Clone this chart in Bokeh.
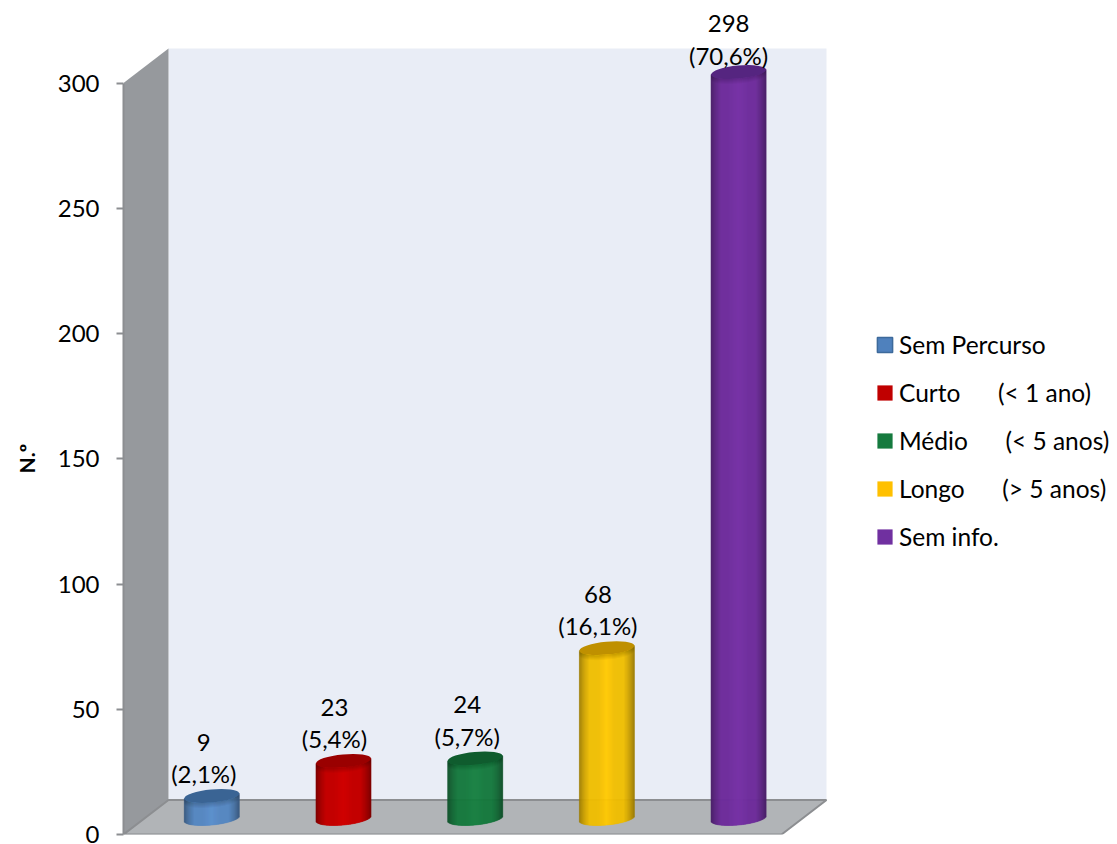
import numpy as np
from bokeh.plotting import figure
from bokeh.models import Range1d, Legend, LegendItem, ColumnDataSource, FixedTicker, Title
from bokeh.core.properties import value
from bokeh.embed import file_html
from bokeh.resources import INLINE

# Chart data
categories = ["Sem Percurso", "Curto", "Médio", "Longo", "Sem info."]
legend_labels = ["Sem Percurso",
                 "Curto\u00a0\u00a0\u00a0\u00a0\u00a0\u00a0(< 1 ano)",
                 "Médio\u00a0\u00a0\u00a0\u00a0\u00a0\u00a0(< 5 anos)",
                 "Longo\u00a0\u00a0\u00a0\u00a0\u00a0\u00a0(> 5 anos)",
                 "Sem info."]
counts = [9, 23, 24, 68, 298]
percents = ["(2,1%)", "(5,4%)", "(5,7%)", "(16,1%)", "(70,6%)"]
y_ticks = [0, 50, 100, 150, 200, 250, 300]

# Series colours: body centre, top cap, legend swatch
body_colors = ["#5a8fce", "#d00000", "#158040", "#ffc900", "#7631a6"]
cap_colors = ["#3a6494", "#9a0000", "#0f5c2e", "#bf9000", "#552580"]
swatch_colors = ["#4f81bd", "#c00000", "#157a3e", "#ffc000", "#7030a0"]

# Label nudges in screen pixels, relative to the top of each cylinder
label_dx = [-8, -9, -8, -9, -10]
value_dy = [53, 53, 54, 54, 49]
pct_dy = [22, 22, 22, 23, 17]

FONT = "Lato"
PX_Y = 2.505          # pixels per count on the y scale
PX_X = 131.7          # pixels between neighbouring categories
FRAME_W, FRAME_H = 994, 834
LEFT = 123
X0 = 211.3            # pixel centre of the first category

x_start = (LEFT - X0) / PX_X
x_end = (LEFT + FRAME_W - X0) / PX_X
y_end = FRAME_H / PX_Y

p = figure(frame_width=FRAME_W, frame_height=FRAME_H, width=1117, height=844,
           x_range=Range1d(x_start, x_end), y_range=Range1d(0, y_end),
           output_backend="svg", toolbar_location=None,
           min_border_left=LEFT, min_border_right=0, min_border_top=0, min_border_bottom=10,
           outline_line_color=None, background_fill_color="white", border_fill_color="white")
p.grid.visible = False
p.xaxis.visible = False

ax = p.yaxis[0]
ax.bounds = (0, 300)
ax.ticker = FixedTicker(ticks=y_ticks)
ax.axis_line_color = "#8c8e91"
ax.axis_line_width = 2
ax.major_tick_line_color = "#8c8e91"
ax.major_tick_line_width = 2
ax.major_tick_in = 0
ax.major_tick_out = 7
ax.minor_tick_line_color = None
ax.major_label_standoff = 17
ax.major_label_text_font = FONT
ax.major_label_text_font_size = "24px"
ax.major_label_text_color = "#000000"

# Axis name sits beside the axis, centred on the 0-300 span rather than the frame
p.add_layout(Title(text="N.º", align="left", vertical_align="top", offset=361, standoff=27,
                   text_font=FONT, text_font_size="21px", text_font_style="bold",
                   text_color="#000000"), "left")

# Box depth in data units
dx = 45 / PX_X
dy = 34.5 / PX_Y
front_l = x_start
front_r = (781 - X0) / PX_X
top = 300

# Back wall, side wall and floor
p.quad(left=[front_l + dx], right=[front_r + dx], bottom=[dy], top=[top + dy],
       fill_color="#e9edf6", line_color=None)
p.patch([front_l, front_l + dx, front_l + dx, front_l], [0, dy, top + dy, top],
        fill_color="#96999d", line_color=None)
p.patch([front_l, front_l + dx, front_r + dx, front_r], [0, dy, dy, 0],
        fill_color="#b1b4b7", line_color="#8c8e91", line_width=2)

# Cylinders built from narrow vertical strips to shade the curved surface
HALF_W = 27.5
CAP_H = 6.5
TILT = 2.6 / 27.8
BASE_DY = 16.0 / PX_Y


def rgb(hex_color):
    return np.array([int(hex_color[i:i + 2], 16) for i in (1, 3, 5)], dtype=float)


def to_hex(c):
    return "#%02x%02x%02x" % tuple(int(round(v)) for v in np.clip(c, 0, 255))


offsets = np.arange(-HALF_W, HALF_W, 1.0) + 0.5
t = np.abs(offsets) / HALF_W
shade = 0.62 + 0.38 * np.clip((1 - t) / 0.38, 0, 1) ** 0.7
shade = shade * (0.94 + 0.06 * np.clip(1 - t / 0.35, 0, 1))
arc = CAP_H * np.sqrt(np.clip(1 - t ** 2, 0, 1))
lean = offsets * TILT

for i, (v, body, cap) in enumerate(zip(counts, body_colors, cap_colors)):
    left = i + (offsets - 0.5) / PX_X
    right = i + (offsets + 0.5) / PX_X
    top_edge = v + BASE_DY + lean / PX_Y
    src = ColumnDataSource(dict(
        left=left, right=right,
        top=top_edge,
        bottom=BASE_DY + (lean - arc) / PX_Y,
        color=[to_hex(rgb(body) * s) for s in shade],
    ))
    p.quad(left="left", right="right", top="top", bottom="bottom", source=src,
           fill_color="color", line_color="color", line_width=0.6)
    # Soft shadow on the body just under the cap
    for k in range(1, 6):
        p.quad(left=left, right=right,
               top=top_edge - arc / PX_Y,
               bottom=top_edge - (arc + k) / PX_Y,
               fill_color="#000000", fill_alpha=0.035, line_color=None)
    p.ellipse(x=[i], y=[v + BASE_DY], width=[2 * HALF_W], height=[2 * CAP_H],
              width_units="screen", height_units="screen", angle=[np.arctan(TILT)],
              fill_color=cap, line_color=None)

# Value labels: count above percentage
for i, v in enumerate(counts):
    for text, off in ((str(v), value_dy[i]), (percents[i], pct_dy[i])):
        p.text(x=[i], y=[v + BASE_DY], text=[text], x_offset=[label_dx[i]], y_offset=[-off],
               text_align="center", text_baseline="middle", text_font=value(FONT),
               text_font_size="24px", text_color="#000000")

# Off-range renderers supply the legend swatches
items = []
for lab, col in zip(legend_labels, swatch_colors):
    edge = "#3d6a9b" if col == swatch_colors[0] else None
    r = p.quad(left=[-50], right=[-49], top=[-50], bottom=[-49],
               fill_color=col, line_color=edge, line_width=1.5)
    items.append(LegendItem(label=lab, renderers=[r]))

legend = Legend(items=items, location=(875 - LEFT, FRAME_H - 551),
                orientation="vertical", margin=0, padding=0, spacing=19,
                glyph_width=19, glyph_height=19, label_height=15, label_standoff=5,
                label_text_font=FONT, label_text_font_size="24.5px", label_text_color="#000000",
                background_fill_alpha=0, border_line_color=None)
p.add_layout(legend)

open("out.html", "w").write(file_html(p, INLINE))
